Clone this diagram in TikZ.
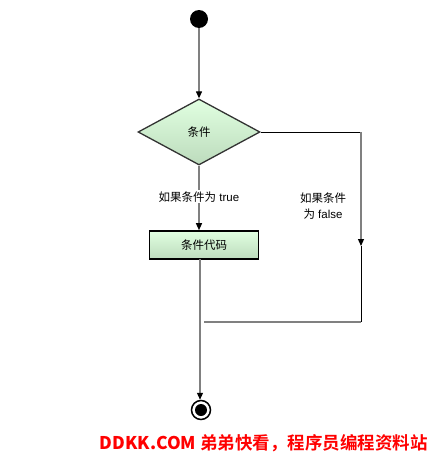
\documentclass[tikz,border=0pt]{standalone}
\usepackage{fontspec}
\setmainfont{Liberation Sans}
\newfontfamily\cjk{Noto Sans CJK SC}
\newfontfamily\cjkb{Noto Sans CJK SC Bold}
\usetikzlibrary{shapes.geometric,arrows.meta}
\begin{document}
\begin{tikzpicture}[x=1pt,y=-1pt,
  flow/.style={draw=black!50,line width=1.2pt},
  flowk/.style={draw=black,line width=0.9pt},
  tip/.style={-{Triangle[width=6pt,length=7pt,fill=black,color=black]}},
  decision/.style={diamond,draw=black!80,line width=1.3pt,top color=green!12!white,bottom color=green!30!gray!40!white,minimum width=122pt,minimum height=66pt,inner sep=0pt,aspect=1.85,font=\cjk\fontsize{11.5}{13}\selectfont},
  action/.style={rectangle,draw=black,line width=1.6pt,top color=green!12!white,bottom color=green!30!gray!40!white,minimum width=109pt,minimum height=28pt,inner sep=0pt,font=\cjk\fontsize{11.5}{13}\selectfont},
  lbl/.style={font=\fontsize{11.5}{13}\selectfont,fill=white,inner sep=1pt,align=center}]
\useasboundingbox (0,0) rectangle (430,455);
\node[circle,fill=black,minimum size=18pt,inner sep=0pt] (start) at (199,19) {};
\node[decision] (cond) at (199,132) {条件};
\node[action] (code) at (204,245) {条件代码};
\node[circle,draw=black,line width=1.5pt,minimum size=19pt,inner sep=0pt] (end) at (201,410) {};
\node[circle,fill=black,minimum size=12pt,inner sep=0pt] at (end) {};
\coordinate (r1) at (361,132);
\coordinate (r2) at (361,246);
\coordinate (r3) at (361,322);
\coordinate (m) at (204,322);
\draw[flow,tip] (start) -- (cond.north);
\draw[flow,tip] (cond.south) -- node[lbl,pos=0.48]{{\cjk 如果条件为} true} (cond.south |- code.north);
\draw[flowk] (cond.east) -- (r1);
\draw[flow,tip] (r1) -- (r2);
\node[lbl,fill=none,inner sep=0pt] (fl) at (323,206) {{\cjk 如果条件}\\[3pt]{\cjk 为} false};
\draw[flowk] (r2) -- (r3);
\draw[flow] (r3) -- (m);
\draw[flow,tip] (200,259) -- (end.north -| 200,0);
\node[text=red,font=\cjkb\fontsize{17.5}{19}\selectfont,anchor=east,inner sep=0pt] (wm) at (428,443) {{\bfseries DDKK.COM} 弟弟快看，程序员编程资料站};
\end{tikzpicture}
\end{document}
